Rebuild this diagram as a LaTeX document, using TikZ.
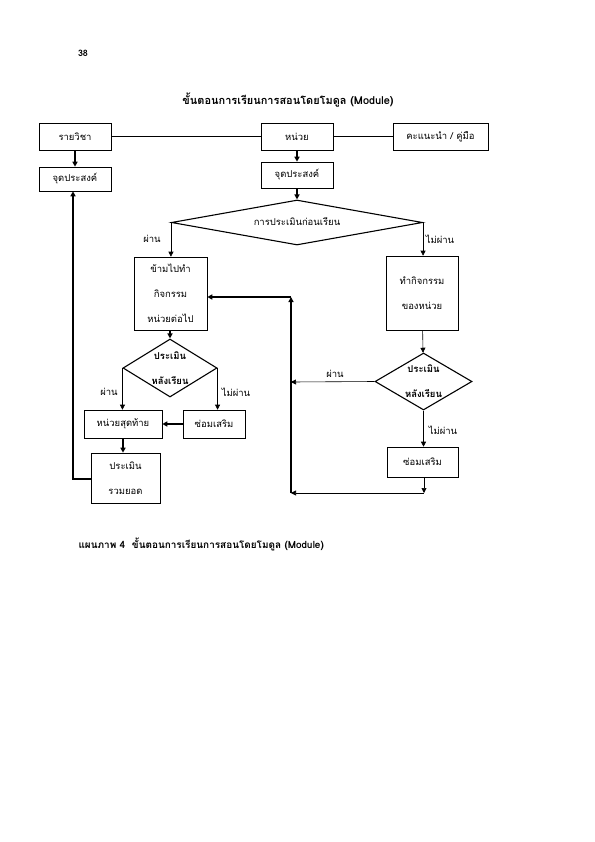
\documentclass[tikz,border=0pt]{standalone}
\usepackage{fontspec}
\setmainfont[Script=Thai]{Loma}
\usetikzlibrary{shapes.geometric,arrows.meta}
\tikzset{
  box/.style={draw, line width=0.6pt, inner sep=0pt, align=center, font=\fontsize{9.5}{25}\selectfont},
  dia/.style={draw, diamond, inner sep=0pt, line width=1.1pt},
  thin/.style={line width=0.6pt},
  thick2/.style={line width=1.3pt},
  arr/.style={-{Triangle[length=5bp,width=5bp]}},
  lbl/.style={font=\fontsize{9.5}{11}\selectfont, inner sep=1pt},
  dtxt/.style={font=\bfseries\fontsize{9.5}{25}\selectfont, align=center, inner sep=0pt}
}
\begin{document}
\begin{tikzpicture}[x=1bp,y=-1bp]
\useasboundingbox (0,0) rectangle (595,842);
\node[font=\bfseries\fontsize{9}{10}\selectfont] (pg) at (83,53) {38};
\node[font=\bfseries\fontsize{11}{12}\selectfont] (title) at (288,100) {ขั้นตอนการเรียนการสอนโดยโมดูล (Module)};

\node[box, minimum width=72bp, minimum height=27bp] (subj) at (75,136.5) {รายวิชา};
\node[box, minimum width=72bp, minimum height=27bp] (unit) at (297,136.5) {หน่วย};
\node[box, minimum width=95bp, minimum height=27bp] (guide) at (440.5,136.5) {คะแนะนำ / คู่มือ};
\node[box, minimum width=72bp, minimum height=24bp] (obj1) at (75,179) {จุดประสงค์};
\node[box, minimum width=72bp, minimum height=26bp] (obj2) at (297,175) {จุดประสงค์};
\node[dia, minimum width=251bp, minimum height=45bp] (pre) at (297,222.5) {};
\node[lbl] (pretxt) at (297,222) {การประเมินก่อนเรียน};
\node[box, minimum width=73bp, minimum height=73bp] (skip) at (170.5,293.5) {ข้ามไปทำ\\กิจกรรม\\หน่วยต่อไป};
\node[box, minimum width=72bp, minimum height=74bp] (act) at (422,293) {ทำกิจกรรม\\ของหน่วย};
\node[dia, minimum width=94bp, minimum height=58bp] (post1) at (170,368) {};
\node[dtxt] (p1txt) at (170,368) {ประเมิน\\หลังเรียน};
\node[dia, minimum width=97bp, minimum height=57bp] (post2) at (423.5,381.5) {};
\node[dtxt] (p2txt) at (423.5,381.5) {ประเมิน\\หลังเรียน};
\node[box, minimum width=78bp, minimum height=28bp] (last) at (123,424) {หน่วยสุดท้าย};
\node[box, minimum width=62bp, minimum height=28bp] (rep1) at (214,424) {ซ่อมเสริม};
\node[box, minimum width=69bp, minimum height=50bp] (total) at (125.5,478) {ประเมิน\\รวมยอด};
\node[box, minimum width=71bp, minimum height=30bp] (rep2) at (422.5,462) {ซ่อมเสริม};

\coordinate (c1) at (424,493);
\coordinate (c2) at (291,493);
\coordinate (c3) at (291,297);
\coordinate (c4) at (291,382);
\coordinate (c5) at (73,479);

% top row
\draw[thin] (subj) -- (unit);
\draw[thin] (unit) -- (guide);
\draw[thick2, arr] (subj) -- (obj1);
\draw[thick2, arr] (unit) -- (obj2);
\draw[thick2, arr] (obj2) -- (pre);
% pre-assessment branches
\draw[thin, arr] (pre.west) -- (pre.west |- skip.north);
\draw[thin, arr] (pre.east) -- (pre.east |- act.north);
\node[lbl] (l1) at (152,239) {ผ่าน};
\node[lbl] (l2) at (440,239) {ไม่ผ่าน};
% left column
\draw[thick2, arr] (skip.south -| post1.north) -- (post1.north);
\draw[thin, arr] (post1.west) -- (post1.west |- last.north);
\draw[thin, arr] (post1.east) -- (post1.east |- rep1.north);
\node[lbl] (l3) at (109,392) {ผ่าน};
\node[lbl] (l4) at (236,392) {ไม่ผ่าน};
\draw[thick2, arr] (rep1) -- (last);
\draw[thick2, arr] (last.south) -- (last.south |- total.north);
\draw[thick2, arr] (total.west |- c5) -- (c5) -- (c5 |- obj1.south);
% right column
\draw[thin, arr] (act) -- (post2);
\draw[thin, arr] (post2.west) -- (c4);
\node[lbl] (l5) at (335,374) {ผ่าน};
\draw[thin, arr] (post2.south) -- (post2.south |- rep2.north);
\node[lbl] (l6) at (443,430) {ไม่ผ่าน};
\draw[thin, arr] (rep2.south -| c1) -- (c1);
\draw[thin, arr] (c1) -- (c2);
\draw[thick2, arr] (c2) -- (c3);
\draw[thick2, arr] (c3) -- (c3 -| skip.east);

\node[font=\bfseries\fontsize{10}{11}\selectfont, anchor=west] (cap) at (75,544) {แผนภาพ 4 \ ขั้นตอนการเรียนการสอนโดยโมดูล (Module)};
\end{tikzpicture}
\end{document}
